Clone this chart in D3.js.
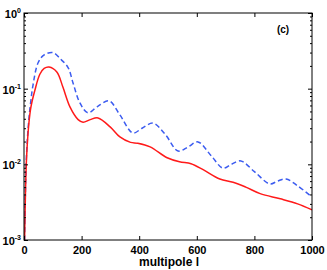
<!DOCTYPE html>
<html>
<head>
<meta charset="utf-8">
<script src="https://cdn.jsdelivr.net/npm/d3@7"></script>
<style>
  body { margin: 0; background: #fff; }
  text { font-family: "Liberation Sans", Arial, sans-serif; font-weight: bold; }
</style>
</head>
<body>
<div id="chart"></div>
<script>
// multipole values and the two spectra
var redL = [2, 5, 9, 17, 24, 38, 55, 70, 87, 114, 135, 160, 188, 205, 230, 257, 300, 333, 370, 395, 438, 497, 540, 580, 622, 680, 726, 770, 820, 890, 950, 1000];
var redV = [0.001, 0.004, 0.0125, 0.035, 0.057, 0.096, 0.155, 0.185, 0.193, 0.166, 0.105, 0.057, 0.039, 0.036, 0.039, 0.041, 0.031, 0.023, 0.0195, 0.019, 0.017, 0.0122, 0.0108, 0.0102, 0.0085, 0.0064, 0.0058, 0.005, 0.0041, 0.0035, 0.003, 0.0025];
var blueL = [2, 5, 9, 17, 24, 31, 49, 70, 101, 125, 153, 170, 194, 222, 255, 295, 333, 378, 410, 448, 490, 535, 570, 604, 650, 691, 720, 753, 800, 854, 880, 910, 950, 1000];
var blueV = [0.001, 0.0045, 0.014, 0.04, 0.07, 0.11, 0.22, 0.28, 0.30, 0.25, 0.19, 0.12, 0.065, 0.048, 0.058, 0.069, 0.045, 0.026, 0.03, 0.035, 0.025, 0.015, 0.017, 0.0198, 0.013, 0.0089, 0.010, 0.0111, 0.008, 0.0055, 0.006, 0.0064, 0.0052, 0.0037];
var xTicks = [0, 200, 400, 600, 800, 1000];
var yExps = [0, -1, -2, -3];

var width = 327, height = 270;
var margin = {left: 24, right: 15, top: 13, bottom: 30};

var svg = d3.select('#chart').append('svg')
            .attr('width', width).attr('height', height);

var x = d3.scaleLinear().domain([0, 1000]).range([margin.left, width - margin.right]);
var y = d3.scaleLog().domain([1e-3, 1]).range([height - margin.bottom, margin.top]);

svg.append('clipPath').attr('id', 'clip').append('rect')
   .attr('x', x(0)).attr('y', y(1))
   .attr('width', x(1000) - x(0)).attr('height', y(1e-3) - y(1));

var line = d3.line()
             .x(function(d){ return x(d[0]); })
             .y(function(d){ return y(d[1]); })
             .curve(d3.curveCatmullRom.alpha(0.5));

var plot = svg.append('g').attr('clip-path', 'url(#clip)');

plot.append('path')
    .datum(d3.zip(blueL, blueV))
    .attr('d', line)
    .attr('fill', 'none')
    .attr('stroke', '#3c5cf0')
    .attr('stroke-width', 1.5)
    .attr('stroke-dasharray', '5,3');

plot.append('path')
    .datum(d3.zip(redL, redV))
    .attr('d', line)
    .attr('fill', 'none')
    .attr('stroke', '#ff1a1a')
    .attr('stroke-width', 1.5);

// axes with inward ticks on all four sides
var minor = [];
yExps.forEach(function(e){
  if (e === 0) return;
  for (var k = 2; k < 10; k++) minor.push(k * Math.pow(10, e));
});
var major = yExps.map(function(e){ return Math.pow(10, e); });

function noDomain(g){ g.select('.domain').remove(); }

svg.append('g').attr('transform', 'translate(0,' + y(1e-3) + ')')
   .call(d3.axisBottom(x).tickValues(xTicks).tickSize(-4).tickPadding(6).tickFormat(d3.format('d')))
   .call(noDomain);
svg.append('g').attr('transform', 'translate(0,' + y(1) + ')')
   .call(d3.axisTop(x).tickValues(xTicks).tickSize(-4).tickFormat(''))
   .call(noDomain);

svg.append('g').attr('transform', 'translate(' + x(0) + ',0)')
   .call(d3.axisLeft(y).tickValues(major).tickSize(-4).tickFormat(''))
   .call(noDomain);
svg.append('g').attr('transform', 'translate(' + x(0) + ',0)')
   .call(d3.axisLeft(y).tickValues(minor).tickSize(-2).tickFormat(''))
   .call(noDomain);
svg.append('g').attr('transform', 'translate(' + x(1000) + ',0)')
   .call(d3.axisRight(y).tickValues(major).tickSize(-4).tickFormat(''))
   .call(noDomain);
svg.append('g').attr('transform', 'translate(' + x(1000) + ',0)')
   .call(d3.axisRight(y).tickValues(minor).tickSize(-2).tickFormat(''))
   .call(noDomain);

svg.selectAll('.tick line').attr('stroke', '#000');
svg.selectAll('.tick text').attr('font-size', '11px').attr('font-family', 'Liberation Sans, Arial, sans-serif')
   .attr('font-weight', 'bold').attr('fill', '#000');

svg.append('rect')
   .attr('x', x(0)).attr('y', y(1))
   .attr('width', x(1000) - x(0)).attr('height', y(1e-3) - y(1))
   .attr('fill', 'none').attr('stroke', '#000').attr('stroke-width', 1);

// y labels as 10 with superscript
var ylab = svg.selectAll('.ylab').data(yExps).enter().append('text')
   .attr('class', 'ylab')
   .attr('x', x(0) - 3).attr('y', function(d){ return y(Math.pow(10, d)) + 5; })
   .attr('text-anchor', 'end')
   .attr('font-size', '11px');
ylab.append('tspan').text('10');
ylab.append('tspan').attr('dy', -5).attr('font-size', '7px').text(function(d){ return d; });

svg.append('text')
   .attr('x', (x(0) + x(1000)) / 2 + 1).attr('y', 266)
   .attr('text-anchor', 'middle')
   .attr('font-size', '12px')
   .text('multipole l');

svg.append('text')
   .attr('x', 283).attr('y', 33)
   .attr('text-anchor', 'middle')
   .attr('font-size', '10px')
   .text('(c)');
</script>
</body>
</html>
